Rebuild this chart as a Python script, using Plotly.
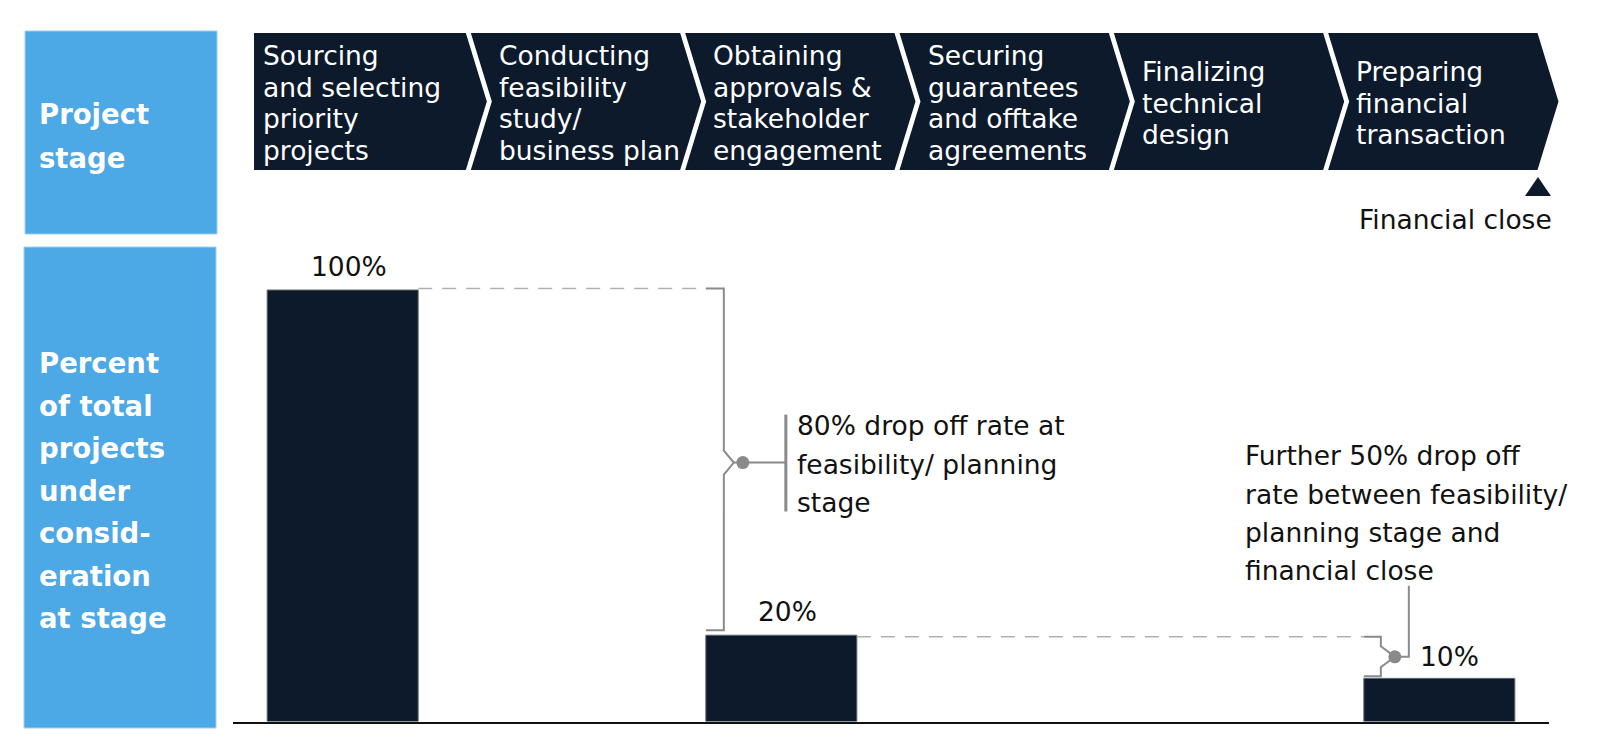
import plotly.graph_objects as go

# ---------------- data ----------------
stage_lines = [
    ["Sourcing", "and selecting", "priority", "projects"],
    ["Conducting", "feasibility", "study/", "business plan"],
    ["Obtaining", "approvals &", "stakeholder", "engagement"],
    ["Securing", "guarantees", "and offtake", "agreements"],
    ["Finalizing", "technical", "design"],
    ["Preparing", "financial", "transaction"],
]
bar_positions = [0, 2, 5]
bar_values = [100, 20, 10]
bar_labels = ["100%", "20%", "10%"]
row_title_top = ["Project", "stage"]
row_title_bottom = ["Percent", "of total", "projects", "under", "consid-", "eration", "at stage"]
note_1 = ["80% drop off rate at", "feasibility/ planning", "stage"]
note_2 = ["Further 50% drop off", "rate between feasibility/", "planning stage and", "financial close"]
milestone = "Financial close"

# ---------------- styling ----------------
W, H = 1600, 756
NAVY = "#0c1a2b"
BLUE = "#4da8e6"
GRAY = "#8a8a8a"
DASH_GRAY = "#b0b0b0"
FONT = "DejaVu Sans"
FS = 26.5

def px(x):
    return x / W

def py(y):
    return 1 - y / H

# plot area (pixels)
X0, X1 = 233, 1549
Y_BASE, Y_TOP = 721.5, 240
X_RANGE = (-0.5, 5.5)
UX = (X1 - X0) / (X_RANGE[1] - X_RANGE[0])   # px per x unit
UY = 4.315                                   # px per percentage point
Y_RANGE = (0, (Y_BASE - Y_TOP) / UY)

def dx(p):
    return p / UX

def dy(p):
    return p / UY

BW = 151 / UX

fig = go.Figure()

# bars
fig.add_trace(go.Bar(
    x=bar_positions, y=bar_values, width=BW,
    marker=dict(color=NAVY, line=dict(color="#5f6873", width=1)),
    hoverinfo="skip",
))

shapes = []
annotations = []

# left blue panels
shapes.append(dict(type="rect", xref="paper", yref="paper",
                   x0=px(25), x1=px(217), y0=py(234), y1=py(31),
                   fillcolor=BLUE, line=dict(color="#9fd0f2", width=1), layer="below"))
shapes.append(dict(type="rect", xref="paper", yref="paper",
                   x0=px(24), x1=px(216), y0=py(728), y1=py(247),
                   fillcolor=BLUE, line=dict(color="#9fd0f2", width=1), layer="below"))

for k, t in enumerate(row_title_top):
    annotations.append(dict(xref="paper", yref="paper", x=px(37), y=py(114 + 44 * k),
                            text=t, showarrow=False, xanchor="left", yanchor="middle",
                            font=dict(family=FONT, size=27.5, color="white", weight="bold")))
for k, t in enumerate(row_title_bottom):
    annotations.append(dict(xref="paper", yref="paper", x=px(37), y=py(363 + 42.5 * k),
                            text=t, showarrow=False, xanchor="left", yanchor="middle",
                            font=dict(family=FONT, size=27.5, color="white", weight="bold")))

# chevrons
C_TOP, C_BOT = 33, 170
C_MID = (C_TOP + C_BOT) / 2
C_START, C_END = 254, 1540
P = (C_END - C_START) / len(stage_lines)
GAP, DEPTH = 5, 21
for i, lines in enumerate(stage_lines):
    L = C_START + i * P + (GAP / 2 if i > 0 else 0)
    R = C_START + (i + 1) * P - GAP / 2
    pts = [(L, C_TOP), (R, C_TOP), (R + DEPTH, C_MID), (R, C_BOT), (L, C_BOT)]
    if i > 0:
        pts.append((L + DEPTH, C_MID))
    path = "M " + " L ".join(f"{px(a):.5f},{py(b):.5f}" for a, b in pts) + " Z"
    shapes.append(dict(type="path", xref="paper", yref="paper", path=path,
                       fillcolor=NAVY, line=dict(width=0), layer="below"))
    tx = L + (7 if i == 0 else 26)
    n = len(lines)
    for k, t in enumerate(lines):
        yy = 103 + (k - (n - 1) / 2) * 31.7
        annotations.append(dict(xref="paper", yref="paper", x=px(tx), y=py(yy),
                                text=t, showarrow=False, xanchor="left", yanchor="middle",
                                font=dict(family=FONT, size=FS, color="white")))

# financial close marker
tri = [(1538, 177), (1551, 196), (1525, 196)]
shapes.append(dict(type="path", xref="paper", yref="paper",
                   path="M " + " L ".join(f"{px(a):.5f},{py(b):.5f}" for a, b in tri) + " Z",
                   fillcolor=NAVY, line=dict(width=0)))
annotations.append(dict(xref="paper", yref="paper", x=px(1455), y=py(219), text=milestone,
                        showarrow=False, xanchor="center", yanchor="middle",
                        font=dict(family=FONT, size=FS, color="#111111")))

# bar value labels (first two above bars)
for pos, val, lab in zip(bar_positions[:2], bar_values[:2], bar_labels[:2]):
    annotations.append(dict(x=pos, y=val, text=lab, showarrow=False, xshift=6, yshift=24,
                            xanchor="center", yanchor="middle",
                            font=dict(family=FONT, size=FS, color="#111111")))

def line_trace(xs, ys, color=GRAY, width=2, dash=None):
    fig.add_trace(go.Scatter(x=xs, y=ys, mode="lines", hoverinfo="skip",
                             line=dict(color=color, width=width, dash=dash)))

# ---- bracket 1: drop from bar 0 to bar 1
top1, low1 = bar_values[0], bar_values[1]
xb1 = bar_positions[1] - BW / 2
xv1 = xb1 + dx(18)
mid1 = (top1 + low1) / 2
line_trace([bar_positions[0] + BW / 2, xb1], [top1 + dy(1.5), top1 + dy(1.5)], DASH_GRAY, 1.5, "14px,10px")
line_trace([xb1, xv1, xv1, xv1 + dx(10), xv1, xv1, xb1],
           [top1 + dy(1.5), top1 + dy(1.5), mid1 + dy(12), mid1, mid1 - dy(12), low1 + dy(5), low1 + dy(5)])
dot1 = xv1 + dx(19)
lead1 = xv1 + dx(62)
line_trace([xv1 + dx(10), lead1], [mid1, mid1])
line_trace([lead1, lead1], [mid1 + dy(48), mid1 - dy(49)], GRAY, 3)
fig.add_trace(go.Scatter(x=[dot1], y=[mid1], mode="markers", hoverinfo="skip",
                         marker=dict(color=GRAY, size=13)))
for k, t in enumerate(note_1):
    annotations.append(dict(x=lead1 + dx(9), y=mid1, text=t, showarrow=False,
                            xanchor="left", yanchor="middle", yshift=(1 - k) * 38.5 - 1.5,
                            font=dict(family=FONT, size=FS, color="#111111")))

# ---- bracket 2: drop from bar 1 to bar 2
top2, low2 = bar_values[1], bar_values[2]
xb2 = bar_positions[2] - BW / 2
xv2 = xb2 + dx(17)
mid2 = (top2 + low2) / 2
line_trace([bar_positions[1] + BW / 2, xb2], [top2 - dy(1.5), top2 - dy(1.5)], DASH_GRAY, 1.5, "14px,10px")
line_trace([xb2, xv2, xv2, xv2 + dx(14), xv2, xv2, xb2],
           [top2 - dy(1.5), top2 - dy(1.5), mid2 + dy(10.5), mid2, mid2 - dy(10.5), low2 + dy(2), low2 + dy(2)])
dot2 = xv2 + dx(14)
lead2 = xv2 + dx(28)
lead2_top = mid2 + dy(71)
line_trace([dot2, lead2, lead2], [mid2, mid2, lead2_top])
fig.add_trace(go.Scatter(x=[dot2], y=[mid2], mode="markers", hoverinfo="skip",
                         marker=dict(color=GRAY, size=13)))
annotations.append(dict(x=lead2 + dx(9), y=mid2, text=bar_labels[2], showarrow=False,
                        xanchor="left", yanchor="middle",
                        font=dict(family=FONT, size=FS, color="#111111")))
for k, t in enumerate(note_2):
    annotations.append(dict(x=lead2 - dx(166), y=lead2_top, text=t, showarrow=False,
                            xanchor="left", yanchor="middle",
                            yshift=[130, 91, 53, 15.5][k],
                            font=dict(family=FONT, size=FS, color="#111111")))

fig.update_layout(
    width=W, height=H,
    margin=dict(l=0, r=0, t=0, b=0),
    paper_bgcolor="white", plot_bgcolor="white",
    showlegend=False,
    shapes=shapes, annotations=annotations,
    xaxis=dict(domain=[px(X0), px(X1)], range=list(X_RANGE), showgrid=False, zeroline=False,
               showticklabels=False, ticks="", showline=True, linecolor="#111111", linewidth=1.5,
               fixedrange=True),
    yaxis=dict(domain=[py(Y_BASE), py(Y_TOP)], range=list(Y_RANGE), showgrid=False,
               zeroline=False, showticklabels=False, ticks="", showline=False, fixedrange=True),
)

fig.write_html("out.html", post_script="document.body.style.margin='0';",
               config={"displayModeBar": False})
